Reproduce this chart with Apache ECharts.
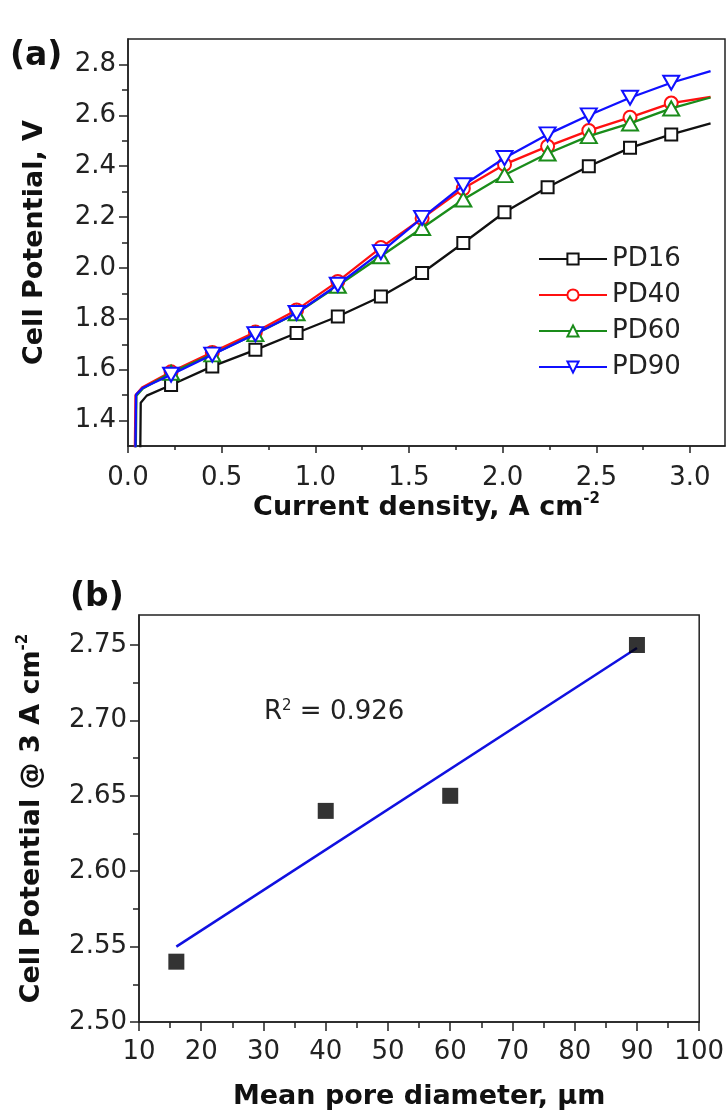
<!DOCTYPE html>
<html><head><meta charset="utf-8">
<script src="https://cdn.jsdelivr.net/npm/echarts@6/dist/echarts.min.js"></script>
<style>html,body{margin:0;padding:0;background:#fff}#c{width:727px;height:1115px}</style>
</head><body><div id="c"></div>
<script>
// ---------- Panel (a) data ----------
const seriesNames = ['PD16', 'PD40', 'PD60', 'PD90'];
const markerX = [0.23, 0.45, 0.68, 0.90, 1.12, 1.35, 1.57, 1.79, 2.01, 2.24, 2.46, 2.68, 2.90];
const pd16 = [1.540, 1.613, 1.678, 1.744, 1.809, 1.888, 1.980, 2.098, 2.219, 2.317, 2.400, 2.472, 2.525];
const pd40 = [1.592, 1.668, 1.748, 1.835, 1.947, 2.080, 2.195, 2.312, 2.407, 2.478, 2.540, 2.592, 2.648];
const pd60 = [1.588, 1.660, 1.740, 1.822, 1.930, 2.046, 2.157, 2.269, 2.365, 2.450, 2.518, 2.568, 2.627];
const pd90 = [1.580, 1.659, 1.740, 1.823, 1.934, 2.062, 2.197, 2.325, 2.432, 2.525, 2.600, 2.669, 2.728];
// onset (steep rise) points and curve end points
const onsetX16 = [0.065, 0.068, 0.10];  const onsetY16 = [1.25, 1.470, 1.498];
const onsetX40 = [0.036, 0.040, 0.075]; const onsetY40 = [1.25, 1.500, 1.530];
const onsetX60 = [0.041, 0.045, 0.080]; const onsetY60 = [1.25, 1.498, 1.526];
const onsetX90 = [0.039, 0.043, 0.078]; const onsetY90 = [1.25, 1.502, 1.528];
const endX = [3.11, 3.11, 3.11, 3.11];
const endY = [2.568, 2.672, 2.670, 2.774];
const xTicksA = [0, 0.5, 1.0, 1.5, 2.0, 2.5, 3.0];
const xMinorA = [0.25, 0.75, 1.25, 1.75, 2.25, 2.75];
const yTicksA = [1.4, 1.6, 1.8, 2.0, 2.2, 2.4, 2.6, 2.8];
const yMinorA = [1.5, 1.7, 1.9, 2.1, 2.3, 2.5, 2.7];

// ---------- Panel (b) data ----------
const poreDiameter = [16, 40, 60, 90];
const potentialAt3 = [2.54, 2.64, 2.65, 2.75];
const fitX = [16, 90];
const fitY = [2.550, 2.748];
const xTicksB = [10, 20, 30, 40, 50, 60, 70, 80, 90, 100];
const xMinorB = [15, 25, 35, 45, 55, 65, 75, 85, 95];
const yTicksB = [2.50, 2.55, 2.60, 2.65, 2.70, 2.75];
const yMinorB = [2.525, 2.575, 2.625, 2.675, 2.725];

const FONT = '"DejaVu Sans", "Liberation Sans", Arial, sans-serif';
const colors = ['#111111', '#ff1010', '#1a8c1a', '#1010ff'];
const symbols = ['rect', 'circle', 'triangle', 'path://M0,0 L10,0 L5,8.66 Z'];
const symSizes = [12, 13, [16, 14], [16, 14]];
const markerSets = [pd16, pd40, pd60, pd90];
const onsets = [[onsetX16, onsetY16], [onsetX40, onsetY40], [onsetX60, onsetY60], [onsetX90, onsetY90]];

function buildCurve(i) {
  const d = [];
  const [ox, oy] = onsets[i];
  for (let k = 0; k < ox.length; k++) d.push({ value: [ox[k], oy[k]], symbol: 'none' });
  for (let k = 0; k < markerX.length; k++) d.push({ value: [markerX[k], markerSets[i][k]] });
  d.push({ value: [endX[i], endY[i]], symbol: 'none' });
  return d;
}

const tickLabelStyle = { color: '#222', fontSize: 26, fontFamily: FONT };
const nameStyle = {
  color: '#111', fontSize: 27, fontWeight: 'bold', fontFamily: FONT, lineHeight: 32,
  rich: { sup: { fontSize: 15, fontWeight: 'bold', fontFamily: FONT, verticalAlign: 'top', lineHeight: 15, color: '#111' } }
};

function mainAxis(dim, gridIndex, min, max, ticks, fmt, name, nameGap, tickLen, labelMargin) {
  return {
    type: 'value', gridIndex, min, max,
    position: dim === 'x' ? 'bottom' : 'left',
    name, nameLocation: 'middle', nameGap, nameTextStyle: nameStyle,
    axisLine: { show: true, onZero: false, lineStyle: { color: '#222', width: 1.5 } },
    axisTick: { show: true, inside: false, length: tickLen, customValues: ticks, lineStyle: { color: '#222', width: 1.5 } },
    axisLabel: { show: true, customValues: ticks, formatter: fmt, margin: labelMargin, ...tickLabelStyle },
    splitLine: { show: false }
  };
}
function minorAxis(dim, gridIndex, min, max, ticks, tickLen) {
  return {
    type: 'value', gridIndex, min, max,
    position: dim === 'x' ? 'bottom' : 'left',
    axisLine: { show: false, onZero: false },
    axisTick: { show: true, inside: false, length: tickLen, customValues: ticks, lineStyle: { color: '#222', width: 1.5 } },
    axisLabel: { show: false },
    splitLine: { show: false }
  };
}

const option = {
  backgroundColor: '#ffffff',
  animation: false,
  grid: [
    { left: 128, top: 39, width: 597, height: 407, show: true, borderColor: '#222', borderWidth: 1.5, backgroundColor: 'transparent' },
    { left: 139, top: 615, width: 561, height: 407, show: true, borderColor: '#222', borderWidth: 1.5, backgroundColor: 'transparent' }
  ],
  xAxis: [
    mainAxis('x', 0, 0, 3.187, xTicksA, v => v.toFixed(1), 'Current density, A cm{sup|-2}', 46, 7, 19),
    minorAxis('x', 0, 0, 3.187, xMinorA, 4),
    mainAxis('x', 1, 10, 100, xTicksB, v => String(Math.round(v)), 'Mean pore diameter, μm', 59, 9, 17),
    minorAxis('x', 1, 10, 100, xMinorB, 6)
  ],
  yAxis: [
    mainAxis('y', 0, 1.3, 2.9, yTicksA, v => v.toFixed(1), 'Cell Potential, V', 77, 9, 12),
    minorAxis('y', 0, 1.3, 2.9, yMinorA, 6),
    mainAxis('y', 1, 2.5, 2.7699, yTicksB, v => v.toFixed(2), 'Cell Potential @ 3 A cm{sup|-2}', 91, 9, 12),
    minorAxis('y', 1, 2.5, 2.7699, yMinorB, 6)
  ],
  legend: {
    orient: 'vertical', left: 533, top: 241, itemWidth: 68, itemHeight: 14, itemGap: 10,
    textStyle: { fontSize: 26, fontFamily: FONT, color: '#222', padding: [0, 0, 0, 0] },
    data: seriesNames
  },
  graphic: [
    { type: 'text', left: 10, top: 40, style: { text: '(a)', font: 'bold 33px ' + FONT, fill: '#111' } },
    { type: 'text', left: 70, top: 581, style: { text: '(b)', font: 'bold 33px ' + FONT, fill: '#111' } },
    { type: 'text', left: 264, top: 699, style: {
        text: 'R{sup|2} = 0.926', fill: '#222', font: '26px ' + FONT,
        rich: { sup: { fontSize: 15, fontFamily: FONT, verticalAlign: 'top', lineHeight: 15, fill: '#222' } }
      } }
  ],
  series: [
    ...seriesNames.map((n, i) => ({
      name: n, type: 'line', xAxisIndex: 0, yAxisIndex: 0,
      data: buildCurve(i), clip: true,
      symbol: symbols[i], symbolSize: symSizes[i], showSymbol: true,
      lineStyle: { color: colors[i], width: 2.3 },
      itemStyle: { color: '#ffffff', borderColor: colors[i], borderWidth: 2 },
      z: 2 + i
    })),
    {
      name: 'fit', type: 'line', xAxisIndex: 2, yAxisIndex: 2,
      data: fitX.map((x, k) => [x, fitY[k]]), symbol: 'none',
      lineStyle: { color: '#1010e0', width: 2.5 }, z: 3
    },
    {
      name: 'points', type: 'scatter', xAxisIndex: 2, yAxisIndex: 2,
      data: poreDiameter.map((x, k) => [x, potentialAt3[k]]),
      symbol: 'rect', symbolSize: 16, itemStyle: { color: '#000' }, z: 4
    }
  ]
};
const chart = echarts.init(document.getElementById('c'), null, { renderer: 'canvas' });
chart.setOption(option);
</script></body></html>
